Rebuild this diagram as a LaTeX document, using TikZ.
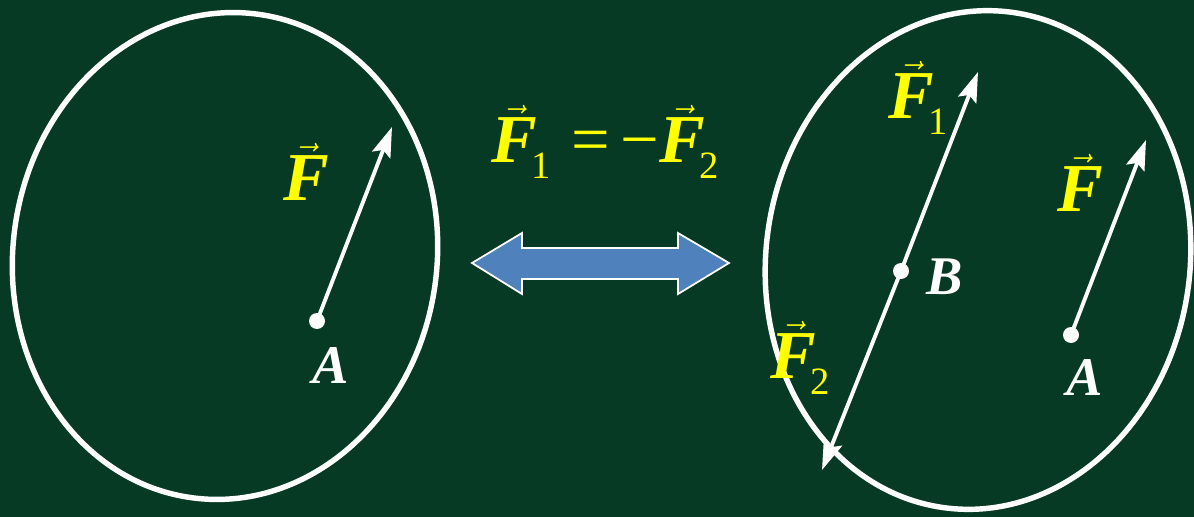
\documentclass[tikz,border=0pt]{standalone}
\usepackage{fontspec}
\setmainfont{Liberation Serif}
\definecolor{bggreen}{RGB}{7,58,36}
\definecolor{fyellow}{RGB}{255,255,0}
\definecolor{swapblue}{RGB}{79,129,189}
\usetikzlibrary{arrows.meta}
\newcommand{\vecF}{$\vec{\mbox{\bfseries\itshape F}}$}
\newcommand{\subidx}[1]{\kern-3pt{\fontsize{22}{22}\selectfont\raisebox{-9pt}{#1}}}

\begin{document}
\begin{tikzpicture}[x=0.02cm, y=-0.02cm,
    body/.style={draw=white, line width=3.1pt},
    force/.style={draw=white, line width=2.2pt, -{Stealth[length=17pt, width=11pt, inset=3pt]}},
    flabel/.style={text=fyellow, font=\fontsize{39}{42}\selectfont, inner sep=0pt},
    plabel/.style={text=white, font=\fontsize{31}{34}\selectfont\bfseries\itshape, inner sep=0pt}]
  \fill[bggreen] (0,0) rectangle (1194,517);
  \useasboundingbox (0,0) rectangle (1194,517);

  %% left body
  \draw[body, rotate around={-8:(225,256)}] (225,256) ellipse (212 and 244);
  \coordinate (A1) at (317,321);
  \coordinate (F1end) at (392,127);
  \draw[force] (A1) -- (F1end);
  \fill[white] (A1) circle (8);
  \node[flabel] (lF) at (306,172) {\vecF};
  \node[plabel] (lA) at (331,366) {A};

  %% equivalence arrow
  \draw[fill=swapblue, draw=white, line width=1pt]
    (472,263) -- (522,233) -- (522,248) -- (678,248) -- (678,233) -- (729,263)
    -- (678,294) -- (678,279) -- (522,279) -- (522,294) -- cycle;
  \node[flabel] (eq) at (605,142) {\vecF\subidx{1}\hspace{0.3em}=\hspace{0.15em}−\vecF\subidx{2}};

  %% right body
  \draw[body, rotate around={-8:(978,260)}] (978,260) ellipse (212 and 250);
  \coordinate (B) at (901,271);
  \coordinate (F1top) at (978,72);
  \coordinate (F2bot) at (822,470);
  \draw[force] (B) -- (F1top);
  \draw[force] (B) -- (F2bot);
  \fill[white] (B) circle (8);
  \node[flabel] (rF1) at (918,98) {\vecF\subidx{1}};
  \node[flabel] (rF2) at (800,358) {\vecF\subidx{2}};
  \node[plabel] (rB) at (945,277) {B};
  \coordinate (A2) at (1071,335);
  \coordinate (F2end) at (1146,140);
  \draw[force] (A2) -- (F2end);
  \fill[white] (A2) circle (8);
  \node[flabel] (rF) at (1080,183) {\vecF};
  \node[plabel] (rA) at (1085,378) {A};
\end{tikzpicture}
\end{document}
